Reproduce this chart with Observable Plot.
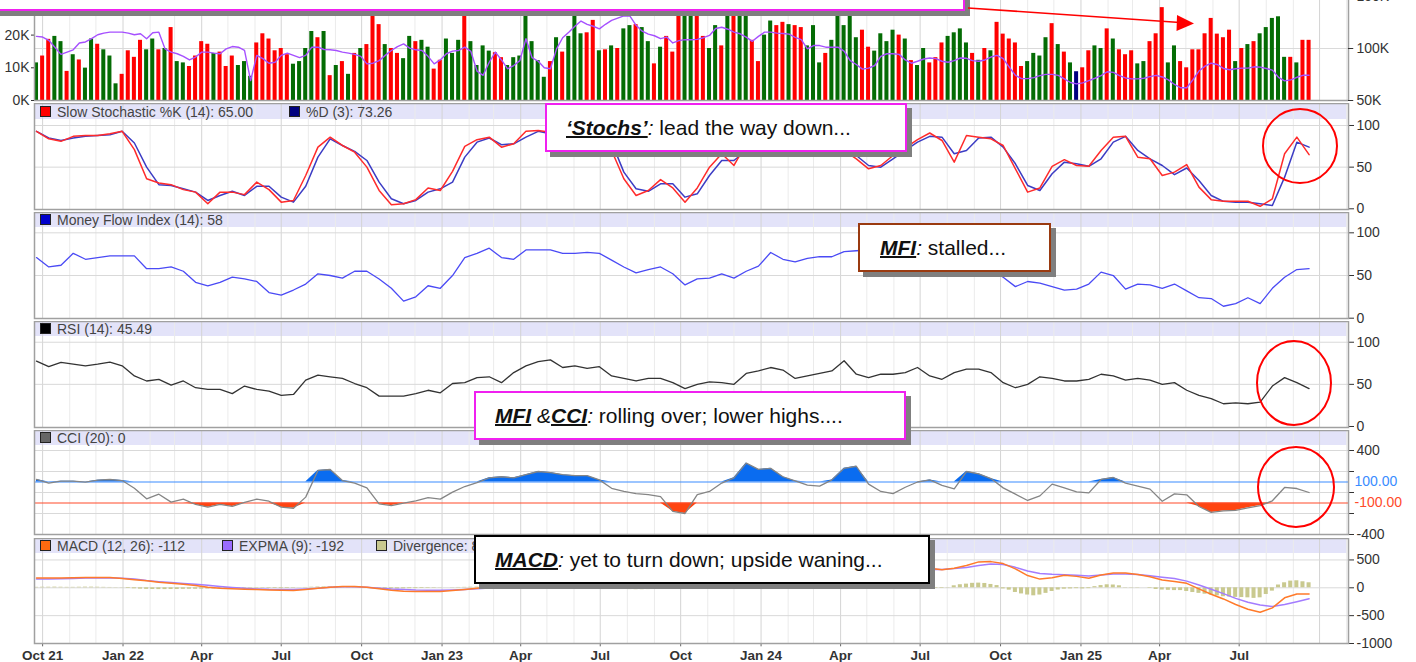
<!DOCTYPE html>
<html>
<head>
<meta charset="utf-8">
<script src="https://cdn.jsdelivr.net/npm/d3@7"></script>
<script src="https://cdn.jsdelivr.net/npm/@observablehq/plot@0.6"></script>
<style>
html,body{margin:0;padding:0;background:#fff;}
body{width:1416px;height:662px;overflow:hidden;position:relative;font-family:"Liberation Sans",Arial,Helvetica,sans-serif;}
.abs{position:absolute;left:0;}
.band{position:absolute;left:35px;width:1312px;background:#e3e3f9;}
.leg{position:absolute;font-size:14px;line-height:14px;color:#444;white-space:nowrap;}
.sw{display:inline-block;width:9px;height:9px;border:1px solid #222;margin-right:6px;vertical-align:0px;}
.note{position:absolute;background:#fff;box-shadow:5px 5px 0 #7f7f7f;font-size:21px;color:#111;white-space:nowrap;box-sizing:border-box;border:2px solid #f020f0;line-height:45px;}
.note .k{font-weight:bold;font-style:italic;text-decoration:underline;text-decoration-thickness:2px;}
.note i{font-style:italic;}
</style>
</head>
<body>
<script>
// ---------------- DATA ----------------
const firstWeek = "2021-09-24"; // first weekly bar
// weekly volume (thousands, left axis units)
const volK = [
11.5,13.6,18.7,19.6,18.0,8.9,14.0,12.4,9.9,18.8,
17.2,15.5,13.6,5.1,8.0,15.2,13.2,18.4,15.5,18.8,
15.5,15.9,22.3,11.9,11.5,10.4,13.6,18.0,17.2,14.4,
14.8,10.4,13.6,10.7,11.9,7.4,17.6,20.4,18.8,15.2,
15.9,14.0,11.1,11.9,15.9,21.1,19.2,21.1,7.6,10.7,
11.9,8.0,14.4,15.9,17.1,28,23.2,17.1,15.9,14.4,
12.8,19.6,18.0,18.4,16.3,9.6,12.3,18.8,14.4,18.4,
28,18.0,10.7,16.7,15.1,14.6,13.1,10.7,13.1,13.6,
28,18.0,12.2,7.1,11.9,19.2,14.8,19.6,28,20.4,
20.7,24.5,15.2,15.5,16.7,15.9,21.9,22.9,23.2,22.3,
18.0,11.2,16.3,19.6,14.8,28,28,28,28,19.6,
15.9,22.9,16.7,28,28,28,28,18.4,11.9,20.0,
24.3,22.9,23.9,23.2,22.9,22.3,16.7,22.9,11.5,14.4,
18.4,28,22.9,28,19.2,21.5,16.3,15.1,20.4,18.0,
21.5,20.0,18.8,12.2,10.7,15.9,11.5,13.1,17.6,19.6,
20.7,21.9,17.6,14.4,12.3,15.9,15.2,23.9,20.3,18.8,
17.6,10.4,11.9,14.4,13.6,19.2,23.5,17.1,14.8,11.5,
8.8,10.0,15.2,16.7,15.9,21.9,18.8,15.5,14.0,15.2,
11.2,11.9,18.0,20.4,28.4,11.5,16.7,11.9,10.0,15.5,
15.5,20.4,25.1,20.3,19.2,21.5,11.9,15.9,17.1,18.0,
20.4,22.3,25.1,25.6,13.2,13.2,11.5,18.4,18.4];
// bar colour code per week: R down, G up, B unchanged
const volDir =
"GRRGGRGRGG"+"RGGGRRRRGG"+"RGRGGRRRRG"+"RRRGGGRRRR"+"RRGGGGRGRG"+
"RGRGRRRGRR"+"GGRGGRRGGG"+"RGGGGRRGGG"+"GGGGRGRGGG"+"RRGRGRGGRG"+
"GRGRRRGGRR"+"GGRGRGGRRG"+"GRRGRRGGGR"+"GGGGGRRGGG"+"GRGRGGRRRG"+
"GGGRGRGRRR"+"RRGGGGRGRG"+"BRRGGRGRRR"+"GGRRRGGRRR"+"RRRRRRGRGR"+"GGGGGRGRR";
// purple overlay line in the volume pane (left-axis units)
const volLine = [
19.6,19.4,18.4,16.3,14.1,14.8,15.5,17.6,17.9,18.9,
20.1,20.6,20.9,20.9,20.9,20.6,20.1,20.4,18.9,20.7,
20.9,15.8,14.8,14.3,13.5,12.4,13.3,14.8,14.8,14.5,
14.3,15.8,16.5,16.3,15.3,6.1,13.8,12.8,11.4,11.7,
13.8,14.5,13.8,13.1,13.8,16.3,16.3,15.6,15.5,15.3,
14.8,14.5,14.1,13.5,11.2,11.4,12.2,13.8,15.3,16.5,
17.3,16.0,15.5,15.3,13.5,11.2,12.4,14.3,15.1,15.3,
16.3,15.0,9.0,7.7,11.7,14.8,12.4,9.7,10.7,12.2,
18.9,13.1,12.0,10.0,9.7,15.8,19.2,20.9,22.7,24.3,
23.3,22.7,21.9,23.3,24.5,25.2,25.9,25.8,23.0,21.2,
20.3,19.8,18.9,19.4,17.6,18.3,18.6,18.6,18.7,19.2,
19.9,22.0,22.4,21.8,20.9,20.4,19.4,18.1,19.6,20.9,
20.9,20.6,20.5,20.3,19.3,18.6,15.8,16.8,16.8,16.3,
16.3,16.3,15.1,12.2,11.0,9.6,9.9,10.7,13.5,14.3,
14.3,14.1,12.4,11.4,12.0,12.7,13.0,12.8,12.0,11.7,
12.2,13.0,12.9,12.2,12.0,12.4,13.3,13.8,12.8,10.2,
7.7,6.7,6.7,7.0,7.6,8.0,8.0,7.7,6.6,5.5,
5.1,5.4,6.1,6.8,7.6,8.8,8.6,7.6,6.9,6.6,
6.6,6.8,7.3,7.7,7.2,6.3,4.9,3.9,3.9,6.3,
9.0,10.5,11.4,11.0,9.8,9.4,9.7,9.9,9.9,10.3,
10.2,9.8,9.3,7.1,6.0,6.3,7.1,7.7,7.7];
// MACD divergence histogram (weekly)
const divergence = [
8,10,10,12,10,8,8,10,12,12, 10,8,6,4,-4,-12,-18,-24,-28,-30,
-32,-32,-30,-30,-28,-26,-26,-24,-22,-20, -18,-16,-14,-12,-10,-8,-8,-8,-10,-12,
-14,-12,-8,-2,6,10,14,16,16,14, 12,8,4,-2,-8,-12,-16,-18,-20,-20,
-18,-16,-14,-12,-10,-8,-4,0,4,6, 8,10,12,14,18,22,26,30,34,36,
38,38,36,34,30,26,22,18,14,10, 6,2,-4,-10,-16,-22,-28,-32,-34,-34,
-32,-30,-28,-26,-24,-20,-14,-6,2,10, 16,22,28,32,34,34,32,28,22,16,
10,4,-2,-8,-12,-14,-14,-12,-10,-6, -2,4,10,14,16,16,12,6,0,-6,
-10,-10,-8,-6,-8,-10,-10,-10,-10,5, 36,55,66,80,84,78,60,40,-20,-42,
-84,-110,-130,-144,-130,-100,-66,-40,-25,-20, -15,-20,-15,20,40,54,50,36,5,-5,
-5,0,-10,-30,-40,-45,-50,-50,-66,-85, -100,-115,-130,-145,-160,-165,-172,-175,-180,-190,
-180,-120,-60,50,90,120,126,108,90];
// indicator series sampled every two weeks
const stochK = [93,84,81,87,88,88,90,93,71,36, 31,29,23,20,6,20,20,17,32,23,
8,10,40,74,86,76,68,50,22,5, 6,11,25,22,45,75,83,86,74,78,
93,94,92,95,96,94,96,70,36,16, 22,35,25,8,25,50,66,52,78,85,
88,90,92,90,88,80,70,60,48,52, 64,73,83,91,82,56,88,86,84,76,
48,20,25,51,59,52,51,70,86,87, 62,60,40,44,53,26,11,9,9,9, 3,12,66,86,65];
const stochD = [93,85,82,85,87,88,89,93,79,50, 29,28,24,20,10,16,21,16,27,27,
14,8,27,62,84,76,69,58,32,12, 6,10,20,24,32,62,80,85,77,78,
86,93,90,93,95,95,94,80,44,24, 21,30,30,14,18,40,58,58,70,80,
86,89,91,91,89,84,75,64,52,50, 60,70,80,87,86,66,70,85,86,74,
54,28,22,42,56,54,51,60,80,87, 70,60,52,41,49,34,16,9,8,8, 6,4,38,80,74];
const mfi = [71,60,62,76,69,71,73,73,73,58, 58,60,55,42,38,42,48,46,43,30,
27,33,40,52,50,47,55,55,46,35, 20,25,38,35,50,71,76,82,71,69,
80,80,80,76,76,77,76,68,60,53, 57,60,52,39,46,47,52,47,55,61,
77,69,66,70,72,72,78,79,80,78, 76,74,72,70,68,65,62,60,56,48,
37,43,41,37,33,34,40,54,50,34, 40,39,35,40,32,24,23,14,17,24, 17,35,48,57,58];
const rsi = [77.6,71,76,74,72,74,76.5,72,60,54, 56,49,54,46,44,44,39,48,44,42,
37,38,55,61,59,57,51,46,36,36, 36,39,43,40,51,52,58,59,52,64,
72,77,79,70,72,69,71,60,57,54, 57,57,52,45,50,53,52,50,63,66,
70,67,57,60,63,66,78,62,58,62, 62,64,70,60,56,64,68,68,64,52,
46,50,59,57,54,54,56,62,60,55, 57,55,50,52,43,37,33,27,28,27, 29,48,58,52,45];
const cci = [124,89,108,108,98,117,124,114,41,-60, -16,-92,-63,-114,-140,-114,-133,-95,-63,-83,
-140,-150,-44,210,219,114,89,44,-108,-124, -102,-79,-48,-63,3,57,95,140,150,140,
170,200,190,170,160,160,120,40,10,-10, -20,-40,-180,-200,-20,10,90,140,280,220,
230,150,110,70,60,120,230,250,80,10, -10,50,100,120,67,35,200,178,133,44,
-16,-76,-32,80,44,6,-3,124,143,89, 60,32,-83,-13,-22,-133,-190,-175,-171,-146, -124,-79,48,38,0];
const macd = [174,176,174,180,185,187,187,165,145,126, 100,80,62,40,10,-8,-18,-24,-30,-38,
-45,-50,-30,-10,10,24,24,10,-15,-45, -60,-66,-66,-66,-50,-30,-6,20,50,90,
140,190,230,260,290,310,320,310,280,250, 220,190,160,140,140,160,190,230,270,300,
320,320,310,290,290,310,340,360,340,310, 300,310,330,350,325,350,400,465,470,435,
340,220,156,180,225,205,170,230,265,265, 240,200,140,112,80,-20,-115,-200,-300,-385, -440,-360,-180,-110,-112];
const expma = [156,160,162,168,174,178,180,172,156,130, 110,94,78,62,45,25,6,-10,-20,-28,
-30,-30,-22,-10,8,18,18,10,-6,-22, -32,-40,-42,-42,-38,-30,-18,-5,15,45,
85,130,175,215,250,275,295,300,290,270, 245,215,190,165,150,150,165,195,230,265,
290,305,305,300,295,300,320,340,340,325, 312,310,320,335,330,345,365,400,427,420,
367,300,255,242,235,225,212,230,247,247, 240,215,190,165,120,50,-25,-105,-190,-260, -310,-335,-300,-250,-195];
const xTickLabels = ["Oct 21","Jan 22","Apr","Jul","Oct","Jan 23","Apr","Jul","Oct","Jan 24","Apr","Jul","Oct","Jan 25","Apr","Jul"];
const volLeftTicks = [0, 10, 20];
const volRightTicks = [50, 100, 150];

// ---------------- BUILD ----------------
const DAY = 864e5;
const t0 = Date.parse(firstWeek + "T00:00:00Z");
const xStart = new Date(t0 - 2.29 * DAY), xEnd = new Date(t0 + 1501.1 * DAY);
const weekly = volK.map((v, i) => ({date: new Date(t0 + i * 7 * DAY), vol: v, line: volLine[i], dir: volDir[i], div: divergence[i]}));
const bi = stochK.map((k, i) => ({date: new Date(t0 + i * 14 * DAY), k, d: stochD[i], mfi: mfi[i], rsi: rsi[i], cci: cci[i], macd: macd[i], sig: expma[i]}));
const xTicks = xTickLabels.map((label, i) => ({date: new Date(Date.UTC(2021, 9 + 3 * i, 1)), label}));
const months = d3.utcMonth.range(xStart, xEnd);
const monthsQ = months.filter(d => d.getUTCMonth() % 3 === 0);
const monthsM = months.filter(d => d.getUTCMonth() % 3 !== 0);
const dirColor = {R: "#ff0000", G: "#046c04", B: "#000080"};
const toLeft = v => (v - 50) * 15.9 / 50; // right volume axis -> left units
const W = 1416;
const baseStyle = {background: "transparent", fontFamily: "'Liberation Sans', Arial, sans-serif", fontSize: "14px", color: "#333"};
const barX1 = d => new Date(+d.date - 2.3 * DAY), barX2 = d => new Date(+d.date + 2.3 * DAY);

function mount(el, top) {
  const div = document.createElement("div");
  div.className = "abs"; div.style.top = top + "px";
  div.appendChild(el); document.body.appendChild(div);
}
function addBand(top, h) {
  const b = document.createElement("div");
  b.className = "band"; b.style.top = top + "px"; b.style.height = h + "px";
  document.body.appendChild(b);
}
function grid() {
  return [Plot.ruleX(monthsM, {stroke: "#ebebeb"}), Plot.ruleX(monthsQ, {stroke: "#d4d4d4"})];
}

// bands (under the plots)
addBand(104, 15); addBand(213, 14); addBand(322, 14); addBand(431, 14); addBand(539, 14);

// Volume pane
mount(Plot.plot({
  width: W, height: 112, marginTop: 0, marginBottom: 12, marginLeft: 34, marginRight: 68,
  style: baseStyle,
  x: {type: "utc", domain: [xStart, xEnd], axis: null},
  y: {domain: [0, 30.58], axis: "left", ticks: volLeftTicks, tickFormat: d => d + "K", tickSize: 3, tickPadding: 2, label: null},
  color: {type: "identity"},
  marks: [
    ...grid(),
    Plot.ruleY([toLeft(100)], {stroke: "#dadada"}),
    Plot.rectY(weekly, {x1: barX1, x2: barX2, y1: 0, y2: "vol", fill: d => dirColor[d.dir]}),
    Plot.line(weekly, {x: "date", y: "line", stroke: "#a650ff", strokeWidth: 1.4}),
    Plot.ruleX([xStart, xEnd], {stroke: "#a0a0a0", strokeWidth: 1.5}),
    Plot.ruleY([0], {stroke: "#a0a0a0", strokeWidth: 1.5}),
    Plot.ruleY(volRightTicks, {y: d => toLeft(d), x1: () => xEnd, x2: () => new Date(+xEnd + 6 * DAY), stroke: "#333"}),
    Plot.text(volRightTicks, {y: d => toLeft(d), x: () => xEnd, dx: 8, text: d => d + "K", textAnchor: "start", fontSize: 14, fill: "#333"})
  ]
}), 0);

function indicator({top, height, domain, ticks, tickFormat, gridY, marks, marginBottom = 8}) {
  mount(Plot.plot({
    width: W, height: height + marginBottom, marginTop: 0, marginBottom, marginLeft: 34, marginRight: 68,
    style: baseStyle,
    x: {type: "utc", domain: [xStart, xEnd], axis: null},
    y: {domain, axis: "right", ticks, tickFormat: tickFormat || (d => String(d)), tickSize: 5, tickPadding: 3, label: null},
    marks: [...grid(), Plot.ruleY(gridY, {stroke: "#d9d9d9"}), ...marks, Plot.frame({stroke: "#a0a0a0", strokeWidth: 1.5})]
  }), top);
}

indicator({top: 103, height: 106, domain: [-0.84, 126.4], ticks: [0, 50, 100], gridY: [50, 100], marks: [
  Plot.line(bi, {x: "date", y: "d", stroke: "#3c3cc4", strokeWidth: 1.5}),
  Plot.line(bi, {x: "date", y: "k", stroke: "#ff2b2b", strokeWidth: 1.5})
]});
indicator({top: 212, height: 106, domain: [-0.35, 123.8], ticks: [0, 50, 100], gridY: [50, 100], marks: [
  Plot.line(bi, {x: "date", y: "mfi", stroke: "#4a4af5", strokeWidth: 1.3})
]});
indicator({top: 321, height: 106, domain: [-1.2, 124.6], ticks: [0, 50, 100], gridY: [50, 100], marks: [
  Plot.line(bi, {x: "date", y: "rsi", stroke: "#333", strokeWidth: 1.3})
]});
indicator({top: 430, height: 104, domain: [-400, 590.5], ticks: [400, 200, 0, -200, -400],
  tickFormat: d => (Math.abs(d) === 400 ? String(d) : ""), gridY: [400, 200, 0, -200], marks: [
  Plot.areaY(bi, {x: "date", y1: 100, y2: d => Math.max(100, d.cci), fill: "#0a6cf0"}),
  Plot.areaY(bi, {x: "date", y1: -100, y2: d => Math.min(-100, d.cci), fill: "#ff4410"}),
  Plot.ruleY([100], {stroke: "#3a8cff", strokeWidth: 1.2}),
  Plot.ruleY([-100], {stroke: "#ff4a2a", strokeWidth: 1.2}),
  Plot.line(bi, {x: "date", y: "cci", stroke: "#858585", strokeWidth: 1.3}),
  Plot.text([100], {x: () => xEnd, y: d => d, dx: 6, text: () => "100.00", textAnchor: "start", fill: "#3a8cff", fontSize: 14}),
  Plot.text([-100], {x: () => xEnd, y: d => d, dx: 6, text: () => "-100.00", textAnchor: "start", fill: "#ff4a2a", fontSize: 14})
]});
indicator({top: 538, height: 105, marginBottom: 19, domain: [-1000, 885], ticks: [500, 0, -500, -1000], gridY: [500, 0, -500], marks: [
  Plot.rectY(weekly, {x1: barX1, x2: barX2, y1: 0, y2: "div", fill: "#c9c98f"}),
  Plot.line(bi, {x: "date", y: "sig", stroke: "#a37cff", strokeWidth: 1.5}),
  Plot.line(bi, {x: "date", y: "macd", stroke: "#ff7a2a", strokeWidth: 1.5}),
  Plot.ruleX(xTicks, {x: "date", y1: () => -1000, y2: () => -1060, stroke: "#666"}),
  Plot.text(xTicks, {x: "date", y: () => -1000, dy: 12, text: "label", fontWeight: "bold", fontSize: 13.5, fill: "#333"})
]});

// legends
function legend(top, items) {
  items.forEach(([left, color, text]) => {
    const d = document.createElement("div");
    d.className = "leg"; d.style.top = top + "px"; d.style.left = left + "px";
    d.innerHTML = `<span class="sw" style="background:${color}"></span>${text}`;
    document.body.appendChild(d);
  });
}
legend(104.5, [[40, "#ff0000", "Slow Stochastic %K (14): 65.00"], [289, "#000080", "%D (3): 73.26"]]);
legend(213, [[40, "#0000cc", "Money Flow Index (14): 58"]]);
legend(322, [[40, "#000000", "RSI (14): 45.49"]]);
legend(431, [[40, "#666666", "CCI (20): 0"]]);
legend(539, [[40, "#ff6a10", "MACD (12, 26): -112"], [222, "#9a6cff", "EXPMA (9): -192"], [376, "#c9c98f", "Divergence: 80"]]);

// annotation boxes
function note(left, top, w, h, border, html, pad) {
  const d = document.createElement("div");
  d.className = "note";
  Object.assign(d.style, {left: left + "px", top: top + "px", width: w + "px", height: h + "px", borderColor: border, paddingLeft: pad + "px"});
  d.innerHTML = html;
  document.body.appendChild(d);
}
note(-10, -20, 975, 31, "#f020f0", "", 0);
note(545, 103, 362, 49, "#f020f0", `<span class="k">‘Stochs’</span><i>:</i> lead the way down...`, 19);
note(858, 223, 193, 49, "#9a3a10", `<span class="k">MFI</span><i>:</i> stalled...`, 20);
note(474, 391, 432, 49, "#f020f0", `<span class="k">MFI</span><i> &amp;</i><span class="k">CCI</span><i>:</i> rolling over; lower highs....`, 19);
note(474, 535, 456, 49, "#000000", `<span class="k">MACD</span><i>:</i> yet to turn down; upside waning...`, 19);

// arrow and circles
const ns = "http://www.w3.org/2000/svg";
const ov = document.createElementNS(ns, "svg");
ov.setAttribute("width", W); ov.setAttribute("height", 662);
ov.setAttribute("style", "position:absolute;left:0;top:0;pointer-events:none");
ov.innerHTML = `
<line x1="968" y1="8" x2="1180" y2="22.5" stroke="#ff0000" stroke-width="1.6"/>
<polygon points="1194,23.5 1177,15 1176.5,31" fill="#ff0000"/>
<ellipse cx="1300" cy="146" rx="37" ry="37" fill="none" stroke="#ff0000" stroke-width="2"/>
<ellipse cx="1294" cy="383" rx="37" ry="42" fill="none" stroke="#ff0000" stroke-width="2"/>
<ellipse cx="1296" cy="487" rx="38" ry="40" fill="none" stroke="#ff0000" stroke-width="2"/>`;
document.body.appendChild(ov);
</script>
</body>
</html>
